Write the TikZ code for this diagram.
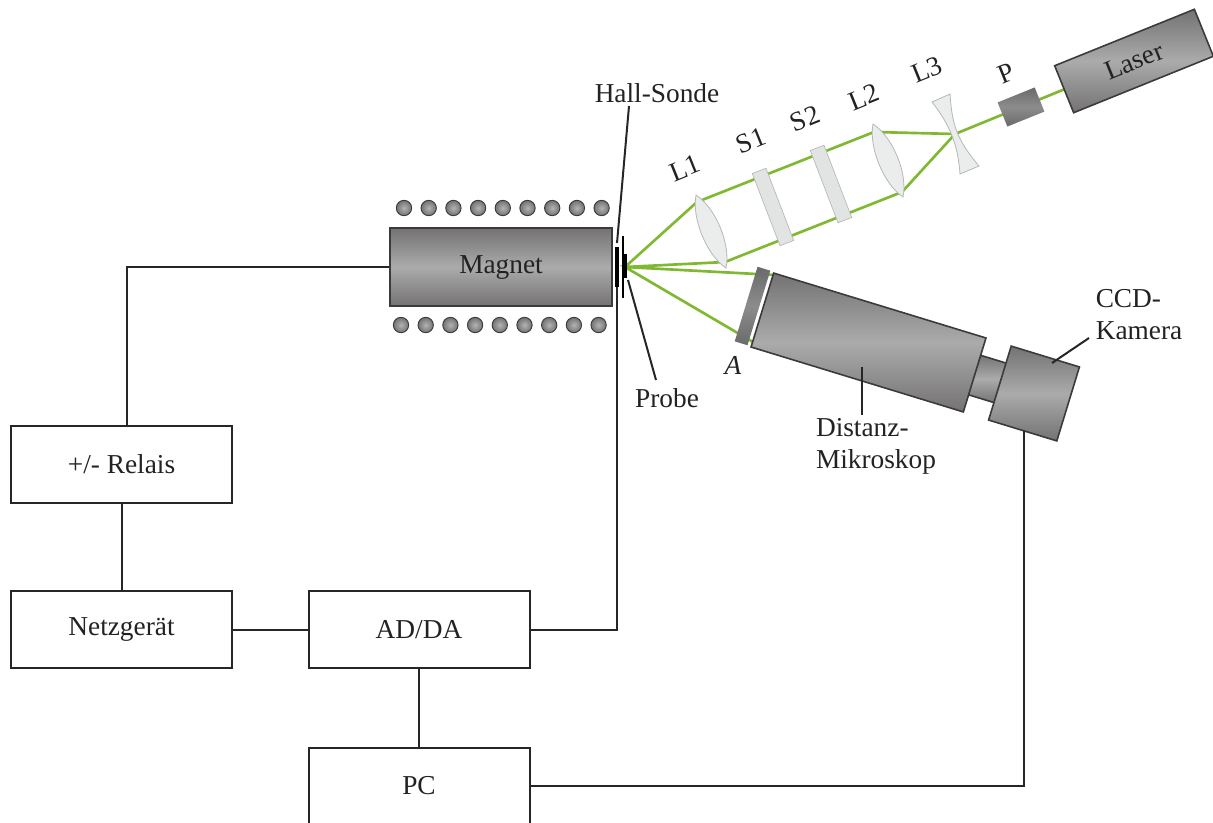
\documentclass[tikz,border=0pt]{standalone}
\usepackage{fontspec}
\setmainfont{Liberation Serif}
\usepackage{xcolor}
\definecolor{Beam}{HTML}{80B832}
\definecolor{MetalEdge}{HTML}{3C3A3A}
\definecolor{MetalDark}{HTML}{747272}
\definecolor{MetalLight}{HTML}{ABABAB}
\definecolor{SlugDark}{HTML}{6A6A6A}
\definecolor{SlugLight}{HTML}{8C8C8C}
\definecolor{GlassEdge}{HTML}{B4B8B8}
\definecolor{Glass}{HTML}{E2E4E4}
\definecolor{Ink}{HTML}{222222}
\tikzset{
  boxnode/.style={draw=black!85,line width=1.5pt,fill=white,minimum width=165.75pt,
    minimum height=57.75pt,inner sep=0pt,text=Ink},
  metal/.style={draw=MetalEdge,line width=1.2pt,top color=MetalDark,bottom color=MetalDark,
    middle color=MetalLight,inner sep=0pt,text=Ink},
  slug/.style={top color=SlugDark,bottom color=SlugDark,middle color=SlugLight,inner sep=0pt},
  coil/.style={circle,draw=MetalEdge,line width=.7pt,inner color=MetalLight!90!white,
    outer color=MetalDark,minimum size=11.5pt,inner sep=0pt},
  plate/.style={fill=Glass,draw=GlassEdge,line width=.5pt,minimum width=11pt,
    minimum height=58pt,inner sep=0pt},
  lens/.style={fill=Glass!70!white,draw=GlassEdge,line width=.6pt},
  beam/.style={draw=Beam,line width=2pt},
  wire/.style={draw=black!85,line width=1.5pt},
  label/.style={text=Ink,inner sep=0pt,align=left}
}
\begin{document}
\begin{tikzpicture}[x=.75pt,y=-.75pt,font=\fontsize{20.5}{24}\selectfont]
    \useasboundingbox (0,0) rectangle (1213,822);
    \clip (0,0) rectangle (1213,822);
    % beam points
    \coordinate (focus) at (625,267);
    \coordinate (tipA) at (697,202);
    \coordinate (tipB) at (725,262);
    \coordinate (tipC) at (874,132);
    \coordinate (tipD) at (902,192);
    \coordinate (waist) at (955,134);
    \coordinate (laserin) at (1065,89);
    \coordinate (scopeA) at (775,275);
    \coordinate (scopeB) at (753,342);
    \draw[beam] (focus) -- (tipA) -- (tipC) -- (waist) -- (tipD) -- (tipB) -- (focus);
    \draw[beam] (waist) -- (laserin);
    \draw[beam] (scopeA) -- (focus) -- (scopeB);

    % boxes
    \node[boxnode] (relais) at (121.5,464.5) {+/- Relais};
    \node[boxnode] (netz) at (121.5,629.5) {Netzgerät};
    \node[boxnode] (adda) at (419,629.5) {AD/DA};
    \node[boxnode] (pc) at (419,786) {PC};

    % magnet and coils
    \node[metal,minimum width=166.5pt,minimum height=58.5pt] (magnet) at (501,267) {Magnet};
    \foreach \i in {0,...,8}{
      \pgfmathsetmacro{\xa}{404+\i*24.7}
      \pgfmathsetmacro{\xb}{401+\i*24.7}
      \node[coil] (coilA\i) at (\xa,208) {};
      \node[coil] (coilB\i) at (\xb,325) {};
    }
    \node[fill=black,minimum width=3.6pt,minimum height=30pt,inner sep=0pt] (hall) at (617,267) {};
    \node[fill=black,minimum width=1.5pt,minimum height=47pt,inner sep=0pt] (probe) at (623,267) {};
    \node[fill=black,minimum width=2.5pt,minimum height=18pt,inner sep=0pt] (holder) at (625,266) {};

    % optics
    \foreach \xa/\ya in {696/195,873/124}{
      \begin{scope}[shift={(\xa,\ya)}]
        \draw[lens] (0,0) .. controls (20,13) and (35,50) .. (30,73)
          .. controls (10.5,60) and (-4.5,23) .. cycle;
      \end{scope}
    }
    \node[plate,rotate=21] (sA) at (773,207) {};
    \node[plate,rotate=21] (sB) at (831,184) {};
    \draw[lens] (932,102) -- (950,94) .. controls (952,125) and (957,140) .. (979,166)
      -- (960,174) .. controls (958,145) and (950,125) .. cycle;
    \node[slug,rotate=22,minimum width=30pt,minimum height=19.5pt] (pol) at (1021,107) {};
    \node[metal,rotate=22,minimum width=113pt,minimum height=38pt] (laser) at (1134,61) {Laser};

    % microscope
    \node[slug,rotate=-17,minimum width=10pt,minimum height=58.5pt] (aperture) at (752.5,306) {};
    \node[metal,rotate=-17,minimum width=24pt,minimum height=31pt] (neck) at (987.5,379) {};
    \node[metal,rotate=-17,minimum width=166.5pt,minimum height=58pt] (scope) at (868.5,342.5) {};
    \node[metal,rotate=-17,minimum width=53.5pt,minimum height=58pt] (camera) at (1034,393.5) {};

    % labels
    \node[label,rotate=22] (lA) at (685,168) {L1};
    \node[label,rotate=22] (lB) at (751,141) {S1};
    \node[label,rotate=22] (lC) at (805,119) {S2};
    \node[label,rotate=22] (lD) at (864,97) {L2};
    \node[label,rotate=22] (lE) at (927,70) {L3};
    \node[label,rotate=22] (lF) at (1006,73) {P};
    \node[label] (lHall) at (657,93) {Hall-Sonde};
    \node[label] (lProbe) at (667,398) {Probe};
    \node[label] (lAper) at (733,365) {\itshape A};
    \node[label] (lScope) at (876,446) {Distanz-\\Mikroskop};
    \node[label] (lCam) at (1139,315) {CCD-\\Kamera};

    % pointers
    \coordinate (hallend) at (617,243);
    \coordinate (probeend) at (628,280);
    \coordinate (scopeend) at (862,367);
    \coordinate (camend) at (1052,363);
    \draw[wire] (629,106) -- (hallend);
    \draw[wire] (656,380) -- (probeend);
    \draw[wire] (862,415) -- (scopeend);
    \draw[wire] (1089,338) -- (camend);

    % wires
    \draw[wire] (magnet.west) -| ([xshift=4pt]relais.north);
    \draw[wire] (relais) -- (netz);
    \draw[wire] (netz) -- (adda);
    \draw[wire] (adda.east) -| (hall.south);
    \draw[wire] (adda) -- (pc);
    \coordinate (camout) at (1024,431);
    \draw[wire] (pc.east) -| (camout);
  \end{tikzpicture}
\end{document}
